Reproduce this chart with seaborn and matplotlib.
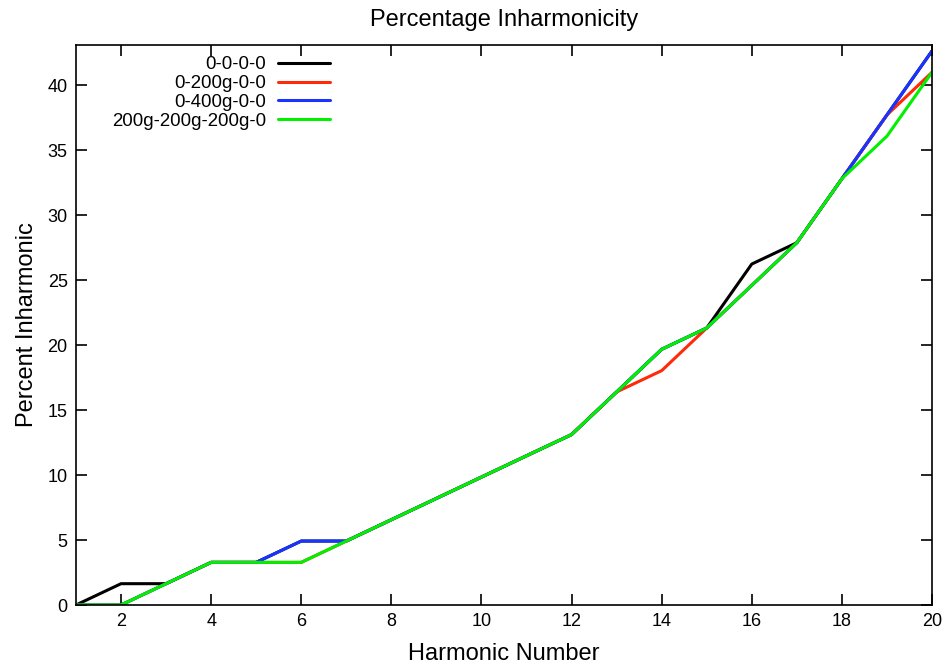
import numpy as np
import pandas as pd
import matplotlib
matplotlib.use("Agg")
import matplotlib.pyplot as plt
import seaborn as sns

harmonic = list(range(1, 21))

inh_0_0_0_0 = [0.00, 1.64, 1.64, 3.28, 3.28, 4.92, 4.92, 6.56, 8.20, 9.84,
               11.48, 13.11, 16.39, 19.67, 21.31, 26.23, 27.87, 32.79, 37.70, 42.62]
inh_0_200g = [0.00, 0.00, 1.64, 3.28, 3.28, 3.28, 4.92, 6.56, 8.20, 9.84,
              11.48, 13.11, 16.39, 18.03, 21.31, 24.59, 27.87, 32.79, 37.70, 40.98]
inh_0_400g = [0.00, 0.00, 1.64, 3.28, 3.28, 4.92, 4.92, 6.56, 8.20, 9.84,
              11.48, 13.11, 16.39, 19.67, 21.31, 24.59, 27.87, 32.79, 37.70, 42.62]
inh_200g_x3 = [0.00, 0.00, 1.64, 3.28, 3.28, 3.28, 4.92, 6.56, 8.20, 9.84,
               11.48, 13.11, 16.39, 19.67, 21.31, 24.59, 27.87, 32.79, 36.07, 40.98]

series_names = ["0-0-0-0", "0-200g-0-0", "0-400g-0-0", "200g-200g-200g-0"]
series_values = [inh_0_0_0_0, inh_0_200g, inh_0_400g, inh_200g_x3]
series_colors = ["#000000", "#ff2a0a", "#1a34ff", "#00f000"]

frames = [pd.DataFrame({"Harmonic": harmonic, "Percent": vals, "Setup": name})
          for name, vals in zip(series_names, series_values)]
df = pd.concat(frames, ignore_index=True)

sns.set_style("ticks")
plt.rcParams["font.family"] = ["Liberation Sans", "DejaVu Sans"]
plt.rcParams["text.color"] = "black"
plt.rcParams["axes.labelcolor"] = "black"

fig = plt.figure(figsize=(9.47, 6.71), dpi=100)
ax = fig.add_axes([76 / 947, 1 - 605 / 671, (932 - 76) / 947, (605 - 45) / 671])

sns.lineplot(data=df, x="Harmonic", y="Percent", hue="Setup",
             hue_order=series_names, palette=dict(zip(series_names, series_colors)),
             linewidth=2.2, ax=ax, legend=True)

ax.set_xlim(1, 20)
ax.set_ylim(0, 43.08)
ax.set_xticks(np.arange(2, 21, 2))
ax.set_yticks(np.arange(0, 41, 5))
ax.tick_params(direction="in", length=8, width=1.2, top=True, right=True,
               labelsize=13, pad=6, colors="black")
for sp in ax.spines.values():
    sp.set_linewidth(1.2)
    sp.set_color("black")

ax.set_title("Percentage Inharmonicity", fontsize=17, pad=13.5, color="black")
ax.set_xlabel("Harmonic Number", fontsize=17, color="black")
ax.set_ylabel("Percent Inharmonic", fontsize=17, color="black")
ax.xaxis.set_label_coords(0.5, -0.067)
ax.yaxis.set_label_coords(-0.044, 0.5)

handles, labels = ax.get_legend_handles_labels()
leg = ax.legend(handles, labels, loc="upper right", bbox_to_anchor=(0.2967, 0.98),
                frameon=False, markerfirst=False, fontsize=13.4, handlelength=2.8,
                handletextpad=0.65, labelspacing=0.1, borderaxespad=0, borderpad=0)
for t in leg.get_texts():
    t.set_color("black")

fig.savefig("out.png", dpi=100)
